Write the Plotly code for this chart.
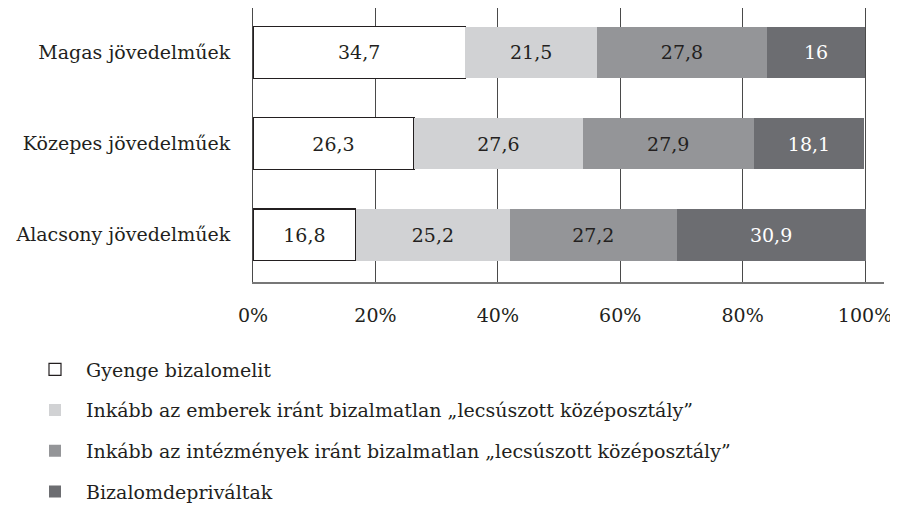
import plotly.graph_objects as go

categories = ["Alacsony jövedelműek", "Közepes jövedelműek", "Magas jövedelműek"]
series_names = [
    "Gyenge bizalomelit",
    "Inkább az emberek iránt bizalmatlan „lecsúszott középosztály”",
    "Inkább az intézmények iránt bizalmatlan „lecsúszott középosztály”",
    "Bizalomdepriváltak",
]
gyenge = [16.8, 26.3, 34.7]
emberek = [25.2, 27.6, 21.5]
intezmenyek = [27.2, 27.9, 27.8]
depr = [30.9, 18.1, 16]
x_ticks = [0, 20, 40, 60, 80, 100]
x_tick_labels = ["0%", "20%", "40%", "60%", "80%", "100%"]

colors = ["#ffffff", "#d1d2d4", "#949598", "#6c6d71"]
text_colors = ["#231f20", "#231f20", "#231f20", "#ffffff"]
line_colors = ["#231f20", "rgba(0,0,0,0)", "rgba(0,0,0,0)", "rgba(0,0,0,0)"]

FONT = "DejaVu Serif"
W, H = 890, 508

def fmt(v):
    return f"{v:g}".replace(".", ",")

fig = go.Figure()
for i, (name, vals) in enumerate(zip(series_names, [gyenge, emberek, intezmenyek, depr])):
    fig.add_trace(go.Bar(
        y=categories, x=vals, name=name, orientation="h",
        marker=dict(color=colors[i], line=dict(color=line_colors[i], width=1.2 if i == 0 else 0)),
        text=[fmt(v) for v in vals], textposition="inside", insidetextanchor="middle",
        textangle=0, constraintext="none",
        insidetextfont=dict(family=FONT, size=19, color=text_colors[i]),
        width=0.566, legendgroup=f"g{i}", hoverinfo="skip",
    ))

fig.update_layout(
    barmode="stack",
    width=W, height=H,
    margin=dict(l=245, r=14, t=0, b=234, autoexpand=False),
    paper_bgcolor="white", plot_bgcolor="white",
    font=dict(family=FONT, size=19, color="#231f20"),
    showlegend=True,
    legend=dict(
        xref="container", yref="container", x=16 / W, y=1 - 342.5 / H,
        xanchor="left", yanchor="top", traceorder="grouped",
        font=dict(family=FONT, size=19, color="#231f20"),
        tracegroupgap=13, itemwidth=52, bgcolor="rgba(0,0,0,0)",
    ),
    uniformtext=dict(mode=False),
)
fig.update_xaxes(
    range=[0, 103.1], tickmode="array", tickvals=x_ticks, ticktext=x_tick_labels, tickangle=0,
    showgrid=True, gridcolor="#4a4a4a", gridwidth=1,
    showline=True, linecolor="#777777", linewidth=1.5,
    zeroline=False, ticks="", ticklabelstandoff=15, automargin=False,
    tickfont=dict(family=FONT, size=19, color="#231f20"),
)
fig.update_yaxes(
    range=[-0.519, 2.488], showgrid=False, showline=True,
    linecolor="#4a4a4a", linewidth=1, ticks="", ticklabelstandoff=18, automargin=False,
    tickfont=dict(family=FONT, size=19, color="#231f20"),
)

fig.write_html("out.html")
